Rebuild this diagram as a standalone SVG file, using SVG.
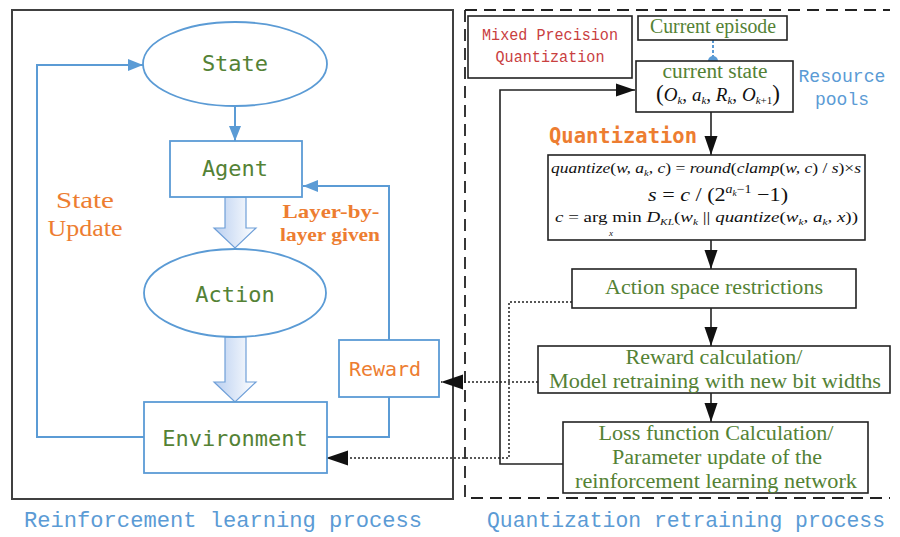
<svg xmlns="http://www.w3.org/2000/svg" width="900" height="537" viewBox="0 0 900 537">
<defs>
<style>
.bl{fill:none;stroke:#5B9BD5;stroke-width:2}
.bk{fill:none;stroke:#222;stroke-width:1.6}
.dt{fill:none;stroke:#222;stroke-width:1.5;stroke-dasharray:2 2}
.bx{fill:#fff;stroke:#222;stroke-width:1.6}
.nb{fill:#fff;stroke:#5B9BD5;stroke-width:1.8}
.gm{font-family:"DejaVu Sans Mono",monospace;fill:#548235}
.gs{font-family:"Liberation Serif",serif;fill:#548235;font-size:20px}
.os{font-family:"Liberation Serif",serif;fill:#ED7D31;font-weight:bold}
.cap{font-family:"Liberation Mono",monospace;fill:#5B9BD5;font-size:22px}
.m{font-family:"Liberation Serif",serif;fill:#111;font-style:italic}
</style>
<linearGradient id="hg" x1="0" y1="0" x2="1" y2="0">
<stop offset="0" stop-color="#b9cff0"/>
<stop offset="1" stop-color="#ffffff"/>
</linearGradient>
<marker id="ab" markerUnits="userSpaceOnUse" markerWidth="16" markerHeight="14" refX="15" refY="7" orient="auto"><path d="M0,1 L15,7 L0,13 z" fill="#5B9BD5"/></marker>
<marker id="ak" markerUnits="userSpaceOnUse" markerWidth="20" markerHeight="14" refX="19" refY="7" orient="auto"><path d="M0,0.5 L19,7 L0,13.5 z" fill="#111"/></marker>
<marker id="ad" markerUnits="userSpaceOnUse" markerWidth="22" markerHeight="16" refX="22" refY="8" orient="auto"><path d="M0,0.5 L22,8 L0,15.5 z" fill="#111"/></marker>
</defs>

<rect x="12" y="10" width="441" height="489" fill="none" stroke="#404040" stroke-width="2"/>
<path d="M465,10 H890 M465,10 V498 H890" fill="none" stroke="#222" stroke-width="1.8" stroke-dasharray="12 7"/>

<g id="connectors">
<line class="bl" x1="235" y1="107" x2="235" y2="141" marker-end="url(#ab)"/>
<polyline class="bl" points="144,437 37,437 37,65 143,65" marker-end="url(#ab)"/>
<polyline class="bl" points="327,437 389,437 389,397"/>
<polyline class="bl" points="389,340 389,186 303,186" marker-end="url(#ab)"/>
<polygon points="225,197 246,197 246,228 256,228 235,248 214,228 225,228" fill="url(#hg)" stroke="#6f9fd8" stroke-width="1.2"/>
<polygon points="225,337 246,337 246,382 256,382 235,402 214,382 225,382" fill="url(#hg)" stroke="#6f9fd8" stroke-width="1.2"/>
<line class="bk" x1="711" y1="112" x2="711" y2="155" marker-end="url(#ak)"/>
<line class="bk" x1="711" y1="240" x2="711" y2="269" marker-end="url(#ak)"/>
<line class="bk" x1="711" y1="308" x2="711" y2="346" marker-end="url(#ak)"/>
<line class="bk" x1="711" y1="393" x2="711" y2="422" marker-end="url(#ak)"/>
<polyline class="bk" points="563,464 500,464 500,90 635,90" marker-end="url(#ak)"/>
<line class="dt" x1="538" y1="382" x2="441" y2="382" marker-end="url(#ad)"/>
<polyline class="dt" points="572,302 509,302 509,458 326,458" marker-end="url(#ad)"/>
<line x1="713" y1="40" x2="713" y2="61" stroke="#5B9BD5" stroke-width="2" stroke-dasharray="3 2"/>
<circle cx="713" cy="61" r="5" fill="#5B9BD5"/>
</g>

<g id="state">
<ellipse cx="235" cy="64" rx="92" ry="42" class="nb"/>
<text x="235" y="71" class="gm" font-size="22" text-anchor="middle">State</text>
</g>
<g id="agent">
<rect x="170" y="141" width="132" height="56" class="nb"/>
<text x="235" y="176" class="gm" font-size="22" text-anchor="middle">Agent</text>
</g>
<g id="action">
<ellipse cx="235" cy="293" rx="91" ry="44" class="nb"/>
<text x="235" y="302" class="gm" font-size="22" text-anchor="middle">Action</text>
</g>
<g id="environment">
<rect x="144" y="402" width="183" height="71" class="nb"/>
<text x="235" y="446" class="gm" font-size="22" text-anchor="middle">Environment</text>
</g>
<g id="reward">
<rect x="339" y="340" width="100" height="57" class="nb"/>
<text x="385" y="376" class="gm" font-size="20" text-anchor="middle" style="fill:#ED7D31">Reward</text>
</g>
<g id="state-update-label">
<text x="85" y="208" class="os" font-size="24" style="font-weight:normal" text-anchor="middle" textLength="58" lengthAdjust="spacingAndGlyphs">State</text>
<text x="85" y="236" class="os" font-size="24" style="font-weight:normal" text-anchor="middle" textLength="75" lengthAdjust="spacingAndGlyphs">Update</text>
</g>
<g id="layer-label">
<text x="331" y="218" class="os" font-size="19" text-anchor="middle" textLength="97" lengthAdjust="spacingAndGlyphs">Layer-by-</text>
<text x="330" y="241" class="os" font-size="19" text-anchor="middle" textLength="100" lengthAdjust="spacingAndGlyphs">layer given</text>
</g>

<g id="mixed-precision">
<rect x="468" y="16" width="164" height="62" class="bx"/>
<text x="550" y="40" font-family="Liberation Mono,monospace" font-size="16" fill="#C9403F" text-anchor="middle" textLength="136" lengthAdjust="spacingAndGlyphs">Mixed Precision</text>
<text x="550" y="62" font-family="Liberation Mono,monospace" font-size="16" fill="#C9403F" text-anchor="middle" textLength="109" lengthAdjust="spacingAndGlyphs">Quantization</text>
</g>
<g id="current-episode">
<rect x="638" y="16" width="149" height="24" class="bx"/>
<text x="713" y="33" class="gs" font-size="19" text-anchor="middle" textLength="126" lengthAdjust="spacingAndGlyphs">Current episode</text>
</g>
<g id="current-state">
<rect x="636" y="61" width="157" height="51" class="bx"/>
<text x="715" y="78" class="gs" text-anchor="middle" textLength="105" lengthAdjust="spacingAndGlyphs">current state</text>
<text x="656" y="101" class="m" font-size="19" textLength="124" lengthAdjust="spacingAndGlyphs"><tspan font-style="normal" font-size="23">(</tspan>O<tspan font-size="11" dy="3">k</tspan><tspan dy="-3" font-style="normal">, </tspan>a<tspan font-size="11" dy="3">k</tspan><tspan dy="-3" font-style="normal">, </tspan>R<tspan font-size="11" dy="3">k</tspan><tspan dy="-3" font-style="normal">, </tspan>O<tspan font-size="11" dy="3">k<tspan font-style="normal">+1</tspan></tspan><tspan dy="-3" font-style="normal" font-size="23">)</tspan></text>
</g>
<g id="resource-pools">
<text x="842" y="82" font-family="Liberation Mono,monospace" font-size="18" fill="#5B9BD5" text-anchor="middle" textLength="87" lengthAdjust="spacingAndGlyphs">Resource</text>
<text x="842" y="105" font-family="Liberation Mono,monospace" font-size="18" fill="#5B9BD5" text-anchor="middle">pools</text>
</g>
<g id="quantization-label">
<text x="549" y="143" font-family="DejaVu Sans Mono,monospace" font-weight="bold" font-size="22" fill="#ED7D31" textLength="148" lengthAdjust="spacingAndGlyphs">Quantization</text>
</g>
<g id="quantize-box">
<rect x="548" y="155" width="317" height="85" class="bx"/>
<text x="551" y="173" class="m" font-size="15" textLength="310" lengthAdjust="spacingAndGlyphs">quantize<tspan font-style="normal">(</tspan>w, a<tspan font-size="9" dy="3">k</tspan><tspan dy="-3">, c</tspan><tspan font-style="normal">) = </tspan>round<tspan font-style="normal">(</tspan>clamp<tspan font-style="normal">(</tspan>w, c<tspan font-style="normal">) / </tspan>s<tspan font-style="normal">)×</tspan>s</text>
<text x="648" y="201" class="m" font-size="19" textLength="140" lengthAdjust="spacingAndGlyphs">s<tspan font-style="normal"> = </tspan>c<tspan font-style="normal"> / (2</tspan><tspan font-size="12" dy="-8">a</tspan><tspan font-size="8" dy="3">k</tspan><tspan font-size="12" dy="-3" font-style="normal">−1</tspan><tspan dy="8" font-style="normal"> −1)</tspan></text>
<text x="555" y="222" class="m" font-size="15" textLength="303" lengthAdjust="spacingAndGlyphs">c<tspan font-style="normal"> = arg min </tspan>D<tspan font-size="9" dy="3">KL</tspan><tspan dy="-3" font-style="normal">(</tspan>w<tspan font-size="9" dy="3">k</tspan><tspan dy="-3" font-style="normal"> || </tspan>quantize<tspan font-style="normal">(</tspan>w<tspan font-size="9" dy="3">k</tspan><tspan dy="-3">, a</tspan><tspan font-size="9" dy="3">k</tspan><tspan dy="-3">, x</tspan><tspan font-style="normal">))</tspan></text>
<text x="609" y="236" class="m" font-size="9">x</text>
</g>
<g id="action-space">
<rect x="572" y="269" width="284" height="39" class="bx"/>
<text x="714" y="294" class="gs" text-anchor="middle" textLength="218" lengthAdjust="spacingAndGlyphs">Action space restrictions</text>
</g>
<g id="reward-calc">
<rect x="538" y="346" width="352" height="47" class="bx"/>
<text x="714" y="364" class="gs" text-anchor="middle" textLength="177" lengthAdjust="spacingAndGlyphs">Reward calculation/</text>
<text x="715" y="388" class="gs" text-anchor="middle" textLength="332" lengthAdjust="spacingAndGlyphs">Model retraining with new bit widths</text>
</g>
<g id="loss">
<rect x="563" y="422" width="305" height="71" class="bx"/>
<text x="716" y="440" class="gs" text-anchor="middle" textLength="235" lengthAdjust="spacingAndGlyphs">Loss function Calculation/</text>
<text x="717" y="464" class="gs" text-anchor="middle" textLength="210" lengthAdjust="spacingAndGlyphs">Parameter update of the</text>
<text x="716" y="488" class="gs" text-anchor="middle" textLength="282" lengthAdjust="spacingAndGlyphs">reinforcement learning network</text>
</g>

<g id="captions">
<text x="24" y="527" class="cap" textLength="398" lengthAdjust="spacingAndGlyphs">Reinforcement learning process</text>
<text x="487" y="527" class="cap" textLength="398" lengthAdjust="spacingAndGlyphs">Quantization retraining process</text>
</g>
</svg>
